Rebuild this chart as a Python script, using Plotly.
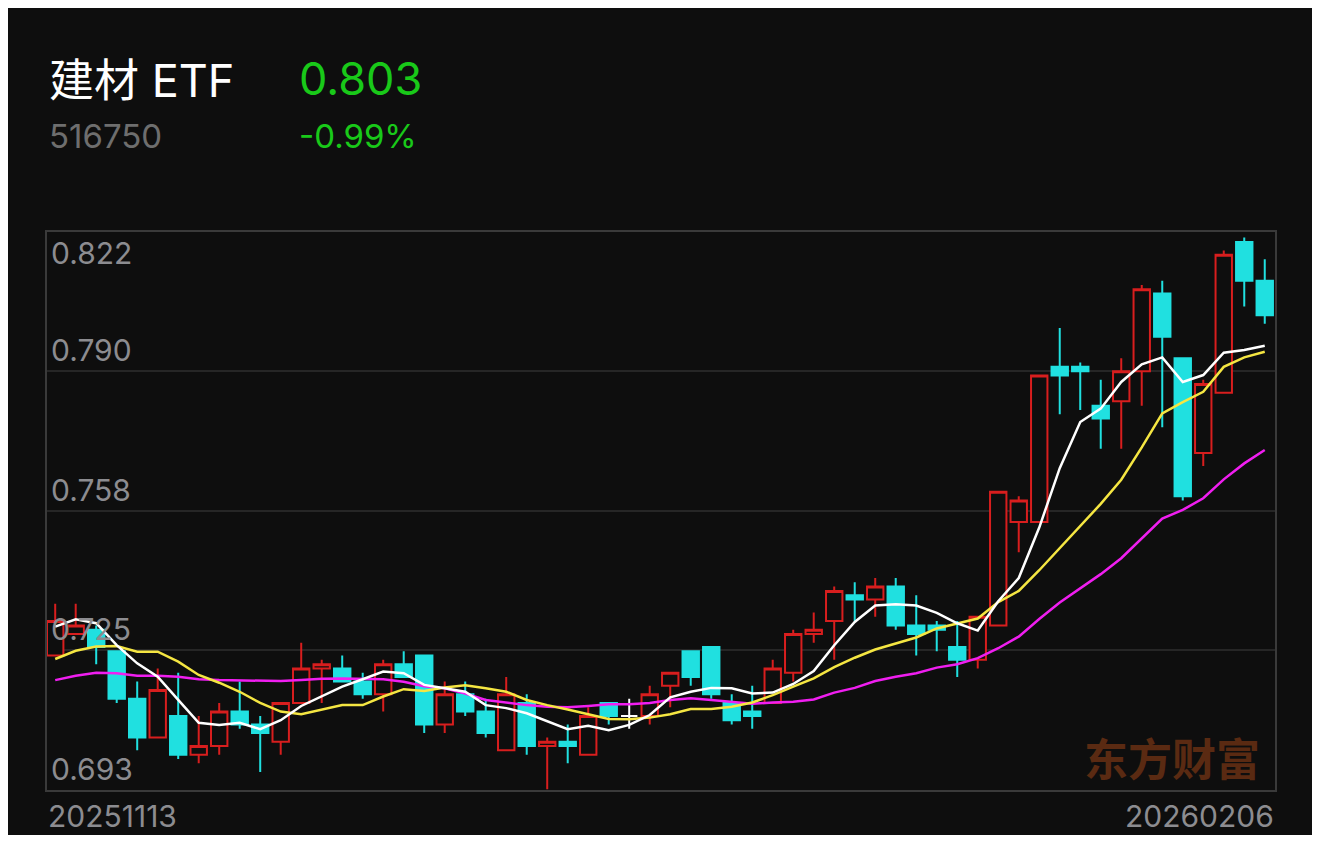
import plotly.graph_objects as go

# trading days 2025-11-13 .. 2026-02-06
dates = [
    '20251113', '20251114', '20251117', '20251118', '20251119', '20251120', '20251121',
    '20251124', '20251125', '20251126', '20251127', '20251128',
    '20251201', '20251202', '20251203', '20251204', '20251205', '20251208', '20251209',
    '20251210', '20251211', '20251212', '20251215', '20251216', '20251217', '20251218',
    '20251219', '20251222', '20251223', '20251224', '20251225', '20251226', '20251229',
    '20251230', '20251231',
    '20260105', '20260106', '20260107', '20260108', '20260109', '20260112', '20260113',
    '20260114', '20260115', '20260116', '20260119', '20260120', '20260121', '20260122',
    '20260123', '20260126', '20260127', '20260128', '20260129', '20260130',
    '20260202', '20260203', '20260204', '20260205', '20260206',
]

open_ = [0.724, 0.729, 0.730, 0.725, 0.714, 0.705, 0.710, 0.701, 0.703, 0.711,
         0.708, 0.704, 0.713, 0.721, 0.721, 0.718, 0.715, 0.722, 0.724, 0.708,
         0.715, 0.711, 0.702, 0.713, 0.703, 0.704, 0.701, 0.713, 0.710, 0.710,
         0.717, 0.725, 0.726, 0.713, 0.711, 0.713, 0.720, 0.729, 0.732, 0.738,
         0.737, 0.740, 0.731, 0.731, 0.726, 0.723, 0.731, 0.755, 0.755, 0.791,
         0.791, 0.782, 0.783, 0.790, 0.808, 0.793, 0.771, 0.785, 0.820, 0.811]
high = [0.736, 0.736, 0.731, 0.725, 0.718, 0.721, 0.720, 0.710, 0.713, 0.718,
        0.710, 0.713, 0.727, 0.723, 0.724, 0.720, 0.723, 0.725, 0.724, 0.718,
        0.718, 0.714, 0.719, 0.715, 0.705, 0.708, 0.712, 0.713, 0.714, 0.717,
        0.720, 0.725, 0.726, 0.715, 0.717, 0.723, 0.730, 0.734, 0.740, 0.741,
        0.742, 0.742, 0.738, 0.732, 0.732, 0.733, 0.762, 0.761, 0.789, 0.800,
        0.792, 0.788, 0.793, 0.810, 0.811, 0.793, 0.788, 0.818, 0.821, 0.816]
low = [0.724, 0.729, 0.722, 0.713, 0.702, 0.705, 0.700, 0.699, 0.701, 0.707,
       0.697, 0.701, 0.713, 0.713, 0.718, 0.714, 0.711, 0.719, 0.706, 0.706,
       0.710, 0.705, 0.702, 0.701, 0.693, 0.699, 0.701, 0.708, 0.707, 0.708,
       0.712, 0.717, 0.714, 0.708, 0.707, 0.713, 0.718, 0.727, 0.723, 0.732,
       0.733, 0.730, 0.724, 0.725, 0.719, 0.721, 0.731, 0.748, 0.755, 0.780,
       0.781, 0.772, 0.772, 0.782, 0.777, 0.760, 0.768, 0.785, 0.805, 0.801]
close = [0.732, 0.731, 0.726, 0.714, 0.705, 0.716, 0.701, 0.703, 0.711, 0.708,
         0.706, 0.713, 0.721, 0.722, 0.718, 0.715, 0.722, 0.719, 0.708, 0.715,
         0.711, 0.706, 0.715, 0.703, 0.704, 0.703, 0.710, 0.710, 0.710, 0.715,
         0.720, 0.719, 0.715, 0.709, 0.710, 0.721, 0.729, 0.730, 0.739, 0.737,
         0.740, 0.731, 0.729, 0.730, 0.723, 0.733, 0.762, 0.760, 0.789, 0.789,
         0.790, 0.779, 0.790, 0.809, 0.798, 0.761, 0.787, 0.817, 0.811, 0.803]

ma5 = [0.7307, 0.7324, 0.7315, 0.7264, 0.7222, 0.7191, 0.7137, 0.7084, 0.7079, 0.7084,
       0.7069, 0.7090, 0.7123, 0.7146, 0.7168, 0.7185, 0.7203, 0.7199, 0.7172, 0.7164,
       0.7156, 0.7125, 0.7118, 0.7106, 0.7087, 0.7069, 0.7077, 0.7067, 0.7079, 0.7102,
       0.7143, 0.7156, 0.7165, 0.7164, 0.7152, 0.7154, 0.7174, 0.7204, 0.7264, 0.7318,
       0.7356, 0.7359, 0.7356, 0.7339, 0.7315, 0.7298, 0.7366, 0.7420, 0.7537, 0.7675,
       0.7782, 0.7813, 0.7875, 0.7916, 0.7932, 0.7875, 0.7891, 0.7943, 0.7949, 0.7959]
ma10 = [0.7232, 0.7251, 0.7261, 0.7262, 0.7249, 0.7249, 0.7226, 0.7195, 0.7177, 0.7156,
        0.7130, 0.7110, 0.7104, 0.7114, 0.7125, 0.7125, 0.7145, 0.7162, 0.7158, 0.7166,
        0.7171, 0.7164, 0.7156, 0.7137, 0.7125, 0.7115, 0.7104, 0.7093, 0.7092, 0.7096,
        0.7104, 0.7116, 0.7116, 0.7121, 0.7131, 0.7148, 0.7168, 0.7187, 0.7213, 0.7235,
        0.7254, 0.7268, 0.7282, 0.7303, 0.7315, 0.7326, 0.7364, 0.7390, 0.7438, 0.7489,
        0.7539, 0.7592, 0.7648, 0.7723, 0.7802, 0.7828, 0.7852, 0.7910, 0.7932, 0.7945]
ma20 = [0.7183, 0.7193, 0.7200, 0.7199, 0.7193, 0.7193, 0.7191, 0.7185, 0.7183, 0.7182,
        0.7181, 0.7181, 0.7183, 0.7186, 0.7187, 0.7186, 0.7185, 0.7179, 0.7169, 0.7164,
        0.7152, 0.7137, 0.7131, 0.7125, 0.7121, 0.7120, 0.7123, 0.7127, 0.7127, 0.7130,
        0.7137, 0.7141, 0.7137, 0.7132, 0.7128, 0.7131, 0.7133, 0.7138, 0.7154, 0.7165,
        0.7181, 0.7191, 0.7199, 0.7212, 0.7220, 0.7234, 0.7257, 0.7284, 0.7325, 0.7363,
        0.7396, 0.7429, 0.7466, 0.7512, 0.7558, 0.7578, 0.7605, 0.7649, 0.7686, 0.7717]

ytick_vals = [0.8223, 0.78993, 0.75755, 0.72518, 0.6928]
ytick_text = ['0.822', '0.790', '0.758', '0.725', '0.693']

BG = '#0e0e0e'
RED = '#d81e1e'
CYAN = '#20e0e0'
GREEN = '#19c919'
GRAY = '#8c8c90'
NUM_FONT = 'Inter, Noto Sans CJK SC, sans-serif'

fig = go.Figure()

# red hollow = up, cyan filled = down, white = flat
groups = [
    (lambda o, c: c > o, RED, BG),
    (lambda o, c: c < o, CYAN, CYAN),
    (lambda o, c: c == o, '#ffffff', '#ffffff'),
]
for cond, line_col, fill_col in groups:
    idx = [i for i in range(len(dates)) if cond(open_[i], close[i])]
    style = dict(line=dict(color=line_col, width=2), fillcolor=fill_col)
    fig.add_trace(go.Candlestick(
        x=[dates[i] for i in idx],
        open=[open_[i] for i in idx],
        high=[high[i] for i in idx],
        low=[low[i] for i in idx],
        close=[close[i] for i in idx],
        increasing=style, decreasing=style,
        whiskerwidth=0, showlegend=False,
    ))

for ma, col in [(ma20, '#f01ef0'), (ma10, '#f5e642'), (ma5, '#ffffff')]:
    fig.add_trace(go.Scatter(
        x=dates, y=ma, mode='lines', line=dict(color=col, width=2.5),
        showlegend=False, hoverinfo='skip'
    ))

# y labels sit just above their grid line (top one just below)
for v, t in zip(ytick_vals, ytick_text):
    fig.add_annotation(
        xref='paper', yref='y', x=0, y=v, xshift=2, yshift=-21 if t == '0.822' else 21,
        text=t, showarrow=False, xanchor='left', yanchor='middle',
        font=dict(family=NUM_FONT, size=30, color=GRAY)
    )

for x, anchor, label in [(0, 'left', dates[0]), (1, 'right', dates[-1])]:
    fig.add_annotation(xref='paper', yref='paper', x=x, y=-0.0466, text=label,
                       showarrow=False, xanchor=anchor, yanchor='middle', borderpad=0,
                       font=dict(family=NUM_FONT, size=30, color=GRAY))

# header
fig.add_annotation(xref='paper', yref='paper', x=0, y=1.2724, text='建材 ETF',
                   showarrow=False, xanchor='left', yanchor='middle',
                   font=dict(family=NUM_FONT, size=45, color='#ffffff'))
fig.add_annotation(xref='paper', yref='paper', x=0.2036, y=1.2742, text='0.803',
                   showarrow=False, xanchor='left', yanchor='middle',
                   font=dict(family=NUM_FONT, size=45, color=GREEN))
fig.add_annotation(xref='paper', yref='paper', x=0, y=1.172, text='516750',
                   showarrow=False, xanchor='left', yanchor='middle',
                   font=dict(family=NUM_FONT, size=33, color='#6e6e6e'))
fig.add_annotation(xref='paper', yref='paper', x=0.2036, y=1.172, text='-0.99%',
                   showarrow=False, xanchor='left', yanchor='middle',
                   font=dict(family=NUM_FONT, size=33, color=GREEN))

# watermark
fig.add_annotation(xref='paper', yref='paper', x=0.9894, y=0.0591, text='东方财富',
                   showarrow=False, xanchor='right', yanchor='middle',
                   font=dict(family='Noto Sans CJK SC', size=44, color='#5a2a12', weight='bold'))

# page body has an 8px margin, so the figure is sized to sit inside it
fig.update_layout(
    width=1304, height=827,
    margin=dict(l=39, r=37, t=224, b=45),
    paper_bgcolor=BG, plot_bgcolor=BG,
    boxgap=0.2, boxgroupgap=0,
    xaxis=dict(
        type='category', categoryorder='array', categoryarray=dates,
        range=[-0.4, 59.5], rangeslider=dict(visible=False),
        showgrid=False, showticklabels=False, zeroline=False,
        showline=True, mirror=True, linecolor='#3a3a3a', linewidth=2,
    ),
    yaxis=dict(
        range=[ytick_vals[-1], ytick_vals[0]], tickvals=ytick_vals,
        showticklabels=False, showgrid=True, gridcolor='#262626', gridwidth=2,
        zeroline=False, showline=True, mirror=True, linecolor='#3a3a3a', linewidth=2,
    ),
)

fig.write_html("out.html")
